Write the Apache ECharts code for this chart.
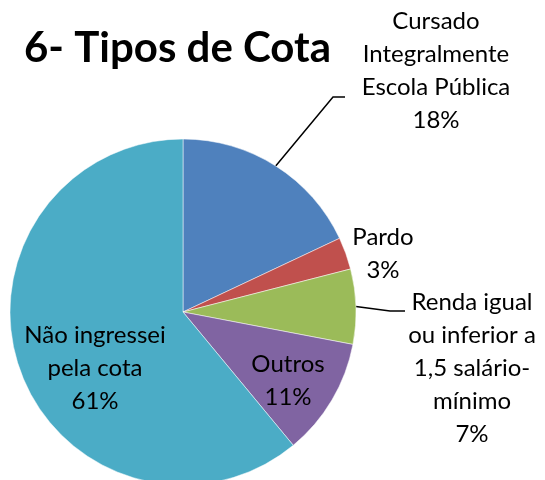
<!DOCTYPE html>
<html>
<head>
<meta charset="utf-8">
<script src="https://cdn.jsdelivr.net/npm/echarts@6/dist/echarts.min.js"></script>
<style>
  html, body { margin: 0; padding: 0; background: #fff; }
  #chart { width: 545px; height: 480px; }
</style>
</head>
<body>
<div id="chart"></div>
<script>
// dados do gráfico
const categories = [
  'Cursado\nIntegralmente\nEscola Pública',
  'Pardo',
  'Renda igual\nou inferior a\n1,5 salário-\nmínimo',
  'Outros',
  'Não ingressei\npela cota'
]
const values = [18, 3, 7, 11, 61]
const colors = ['#4F81BD', '#C0504D', '#9BBB59', '#8064A2', '#4BACC6']
const withLine = [true, false, true, false, false]
const labelInside = [false, false, false, true, true]

// posição dos rótulos (centro do texto)
const labelPos = [
  [436, 71],
  [383, 254],
  [472, 368],
  [288, 381],
  [95, 368]
]

const chart = echarts.init(document.getElementById('chart'))

chart.setOption({
  backgroundColor: '#fff',
  animation: false,
  title: {
    text: '6- Tipos de Cota',
    left: 19,
    top: 22,
    textStyle: {
      fontFamily: 'Lato',
      fontWeight: 'bold',
      fontSize: 42,
      color: '#000'
    }
  },
  series: [{
    type: 'pie',
    center: [183, 312],
    radius: 173,
    startAngle: 90,
    clockwise: true,
    avoidLabelOverlap: false,
    itemStyle: {
      borderColor: '#fff',
      borderWidth: 0.5
    },
    label: {
      show: true,
      position: 'outside',
      formatter: '{b}\n{d}%',
      fontFamily: 'Lato',
      fontSize: 24,
      lineHeight: 33,
      color: '#000',
      align: 'center'
    },
    labelLine: {
      show: true,
      length: 20,
      length2: 12,
      lineStyle: { color: '#000', width: 1.5 }
    },
    labelLayout: function (params) {
      const i = params.dataIndex
      const p = labelPos[i]
      const out = { x: p[0], y: p[1], align: 'center', verticalAlign: 'middle' }
      if (withLine[i] && params.labelLinePoints) {
        const pts = params.labelLinePoints
        if (i === 0) {
          pts[1] = [333, 97]
          pts[2] = [345, 97]
        } else {
          pts[1] = [390, 311]
          pts[2] = [405, 311]
        }
        out.labelLinePoints = pts
      }
      return out
    },
    data: categories.map((name, i) => ({
      name: name,
      value: values[i],
      itemStyle: { color: colors[i] },
      label: { position: labelInside[i] ? 'inside' : 'outside' },
      labelLine: { show: withLine[i] }
    }))
  }]
})
</script>
</body>
</html>
